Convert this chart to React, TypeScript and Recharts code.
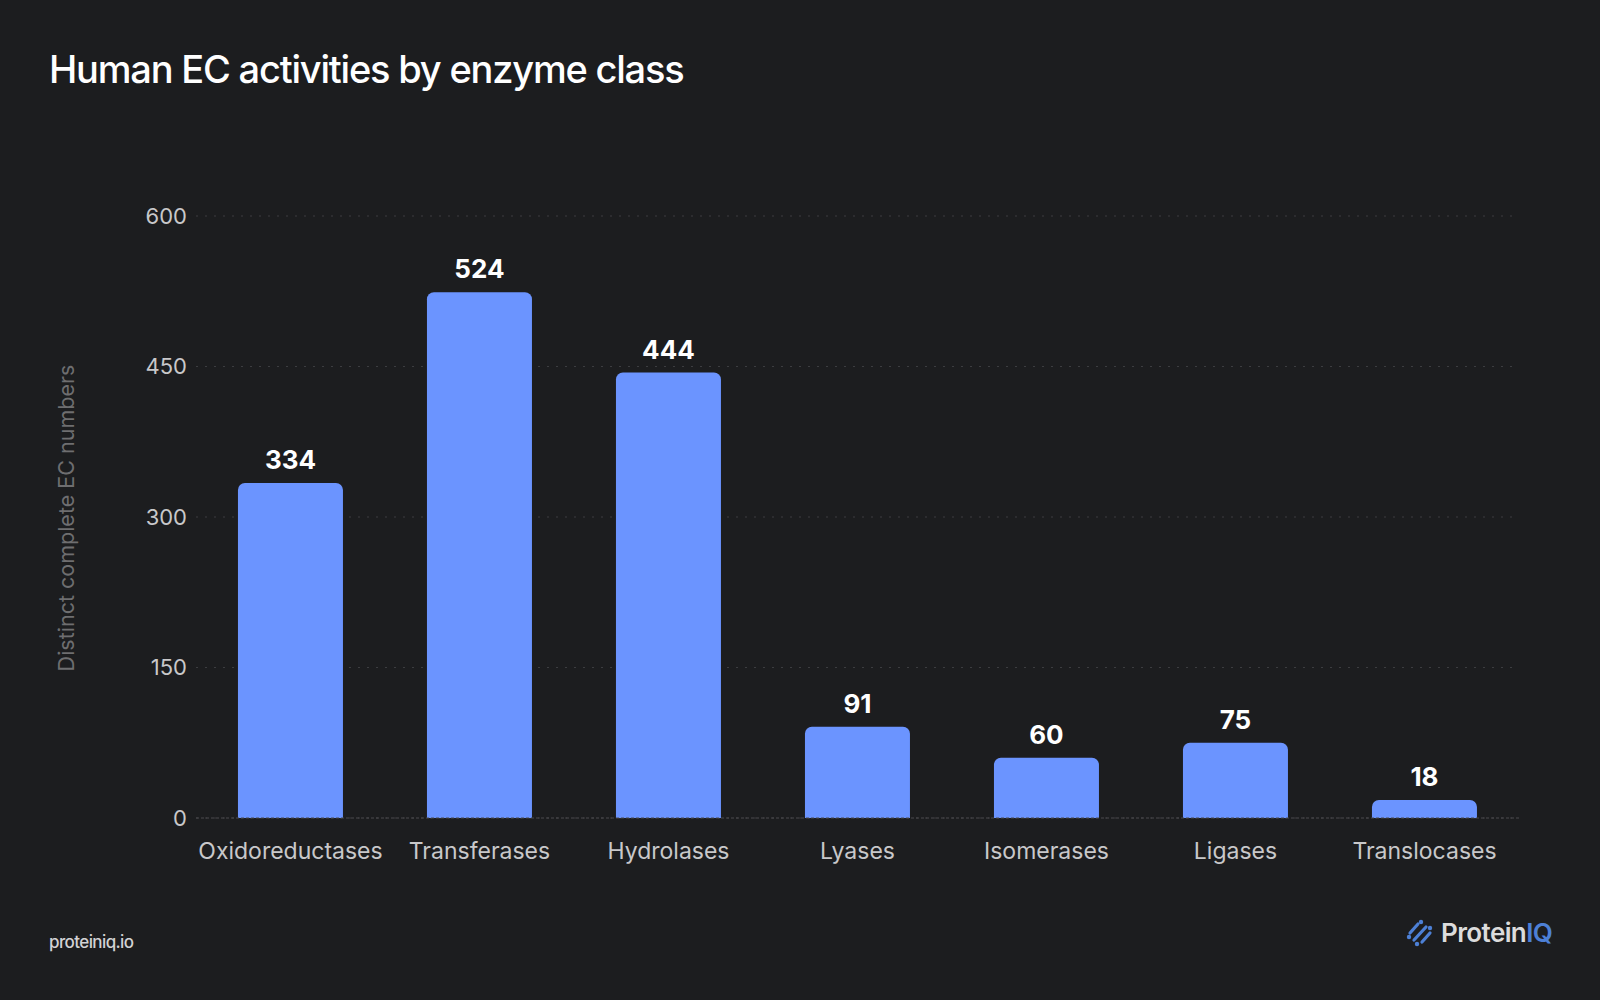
import { BarChart, Bar, XAxis, YAxis, CartesianGrid, LabelList } from 'recharts';

const categories = ['Oxidoreductases', 'Transferases', 'Hydrolases', 'Lyases', 'Isomerases', 'Ligases', 'Translocases'];
const ecCounts = [334, 524, 444, 91, 60, 75, 18];
const yTicks = [0, 150, 300, 450, 600];

const data = categories.map((name, i) => ({ name, count: ecCounts[i] }));

const FONT = 'Inter, "Noto Sans", sans-serif';

function Logo() {
  return (
    <div style={{ position: 'absolute', left: 1406, top: 917, display: 'flex', alignItems: 'center' }}>
      <svg width={28} height={28} viewBox="0 0 28 28">
        <g stroke="#4d80d6" strokeWidth={3.2} strokeLinecap="round" fill="#4d80d6">
          <line x1={4} y1={14} x2={12} y2={5} />
          <line x1={8} y1={21} x2={20} y2={8} />
          <line x1={16} y1={23} x2={24} y2={14} />
          <circle cx={3} cy={18} r={2.2} stroke="none" />
          <circle cx={15} cy={3} r={2.2} stroke="none" />
          <circle cx={11} cy={25} r={2.2} stroke="none" />
          <circle cx={24} cy={9} r={2.2} stroke="none" />
        </g>
      </svg>
      <span style={{ marginLeft: 7, fontSize: 26, fontWeight: 600, letterSpacing: -0.6, color: '#dcdcdc' }}>
        Protein<span style={{ color: '#4d80d6' }}>IQ</span>
      </span>
    </div>
  );
}

export default function App() {
  return (
    <div
      style={{
        position: 'absolute',
        left: 0,
        top: 0,
        width: 1600,
        height: 1000,
        background: '#1c1d1f',
        fontFamily: FONT,
        overflow: 'hidden',
      }}
    >
      <div
        style={{
          position: 'absolute',
          left: 49,
          top: 46,
          fontSize: 38,
          fontWeight: 500,
          letterSpacing: -1.2,
          color: '#ffffff',
        }}
      >
        Human EC activities by enzyme class
      </div>

      <div
        style={{
          position: 'absolute',
          left: 66,
          top: 518,
          transform: 'translate(-50%, -50%) rotate(-90deg)',
          whiteSpace: 'nowrap',
          fontSize: 21.5,
          color: '#6e6e70',
        }}
      >
        Distinct complete EC numbers
      </div>

      <div style={{ position: 'absolute', left: 0, top: 0 }}>
        <BarChart
          width={1600}
          height={1000}
          data={data}
          margin={{ top: 216, right: 81, bottom: 152, left: 116 }}
          barCategoryGap="22.2%"
        >
          <CartesianGrid vertical={false} stroke="#3c3d40" strokeDasharray="2 7" />
          <XAxis
            dataKey="name"
            tickLine={false}
            tickSize={0}
            tickMargin={25}
            axisLine={{ stroke: '#4a4b4e', strokeDasharray: '3 2' }}
            tick={{ fill: '#c8c8ca', fontSize: 23, fontFamily: FONT }}
            interval={0}
          />
          <YAxis
            width={80}
            domain={[0, 600]}
            ticks={yTicks}
            axisLine={false}
            tickLine={false}
            tickSize={0}
            tickMargin={9}
            tick={{ fill: '#c8c8ca', fontSize: 22, fontFamily: FONT }}
          />
          <Bar dataKey="count" fill="#6b94ff" radius={[7, 7, 0, 0]} isAnimationActive={false}>
            <LabelList
              dataKey="count"
              position="top"
              offset={14}
              fill="#ffffff"
              fontSize={26}
              fontWeight={700}
              fontFamily={FONT}
            />
          </Bar>
        </BarChart>
      </div>

      <div
        style={{
          position: 'absolute',
          left: 49,
          top: 932,
          fontSize: 17,
          fontWeight: 500,
          color: '#d2d2d4',
          letterSpacing: -0.6,
        }}
      >
        proteiniq.io
      </div>

      <Logo />
    </div>
  );
}
